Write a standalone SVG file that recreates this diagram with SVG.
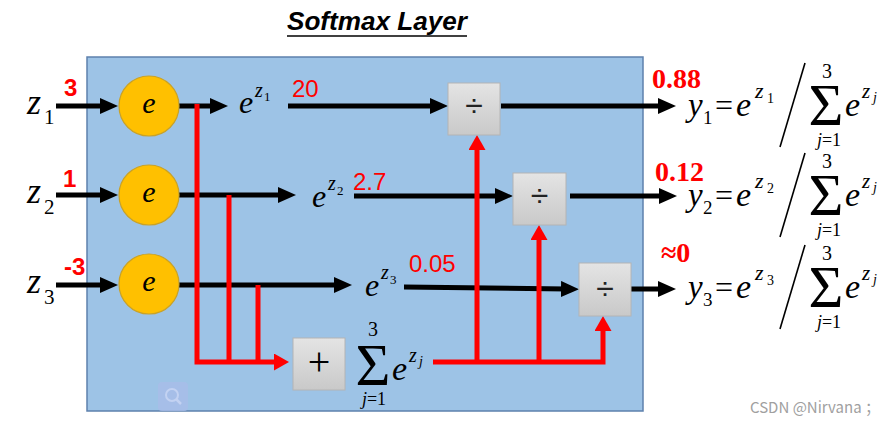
<svg xmlns="http://www.w3.org/2000/svg" width="888" height="424" viewBox="0 0 888 424">
<style>
.serif{font-family:"Liberation Serif","Times New Roman",serif;fill:#000}
.it{font-style:italic}
.lbl{font-family:"Liberation Sans",Arial,sans-serif;fill:#ff0000}
.inp{font-family:"Liberation Sans",Arial,sans-serif;fill:#ff0000;font-weight:bold;font-size:24px}
.out{font-family:"Liberation Serif","Times New Roman",serif;font-weight:bold;fill:#ff0000;font-size:28px}
.blk{stroke:#000;stroke-width:5;fill:none;marker-end:url(#ab)}
.red{stroke:#ff0000;stroke-width:5;fill:none;stroke-linejoin:miter}
.redA{marker-end:url(#ar)}
.op{fill:url(#gg);stroke:#b4b4b4;stroke-width:1}
.circ{fill:#FFC000;stroke:#C9A227;stroke-width:1.2}
</style>
<defs>
<marker id="ab" markerUnits="userSpaceOnUse" markerWidth="18" markerHeight="16" refX="6" refY="8" orient="auto"><path d="M0,0 L18,8 L0,16 z" fill="#000"/></marker>
<marker id="ar" markerUnits="userSpaceOnUse" markerWidth="15" markerHeight="17" refX="3" refY="8.5" orient="auto"><path d="M0,0 L15,8.5 L0,17 z" fill="#ff0000"/></marker>
<linearGradient id="gg" x1="0" y1="0" x2="0" y2="1"><stop offset="0" stop-color="#e4e4e4"/><stop offset="1" stop-color="#c9c9c9"/></linearGradient>
</defs>
<rect width="888" height="424" fill="#fff"/>
<g id="title">
<text x="287" y="30" font-family="Liberation Sans,Arial,sans-serif" font-weight="bold" font-style="italic" font-size="25" textLength="180" lengthAdjust="spacingAndGlyphs">Softmax Layer</text>
<line x1="287" y1="36" x2="467" y2="36" stroke="#000" stroke-width="1.5"/>
</g>
<g id="layer">
<rect x="87" y="57" width="556" height="354" fill="#9DC3E6" stroke="#5E81AD" stroke-width="1.5"/>
<rect x="158" y="382" width="30" height="29" rx="4" fill="#a9bde9" opacity="0.8"/>
<circle cx="172" cy="395" r="6" fill="none" stroke="#c3d2f2" stroke-width="2"/>
<line x1="176.5" y1="399.5" x2="181" y2="404" stroke="#c3d2f2" stroke-width="2.5"/>
</g>
<g id="connectors">
<line class="blk" x1="56" y1="106" x2="106" y2="106"/>
<line class="blk" x1="56" y1="195" x2="106" y2="195"/>
<line class="blk" x1="56" y1="285" x2="106" y2="285"/>
<line class="blk" x1="179" y1="106" x2="216" y2="106"/>
<line class="blk" x1="179" y1="195" x2="284" y2="195"/>
<line class="blk" x1="179" y1="285" x2="340" y2="285"/>
<line class="blk" x1="288" y1="106" x2="436" y2="106"/>
<line class="blk" x1="354" y1="196" x2="501" y2="196"/>
<line class="blk" x1="404" y1="287" x2="567" y2="289"/>
<line class="blk" x1="501" y1="106" x2="664" y2="106"/>
<line class="blk" x1="570" y1="196" x2="665" y2="196"/>
<line class="blk" x1="631" y1="289" x2="664" y2="289"/>
<path class="red redA" d="M197,104 V362 H277"/>
<path class="red" d="M229,195 V362"/>
<path class="red" d="M258,285 V362"/>
<path class="red redA" d="M433,362 H603 V328"/>
<path class="red redA" d="M477,362 V147"/>
<path class="red redA" d="M539,362 V237"/>
</g>
<g id="inputs">
<text class="serif" x="27" y="114"><tspan class="it" style="font-size:36px">z</tspan><tspan x="44" y="124" style="font-size:21px">1</tspan></text>
<text class="serif" x="27" y="203"><tspan class="it" style="font-size:36px">z</tspan><tspan x="44" y="214" style="font-size:21px">2</tspan></text>
<text class="serif" x="27" y="293"><tspan class="it" style="font-size:36px">z</tspan><tspan x="44" y="304" style="font-size:21px">3</tspan></text>
<text class="inp" x="64" y="96">3</text>
<text class="inp" x="63" y="187">1</text>
<text class="inp" x="64" y="275">-3</text>
</g>
<g id="exp1"><circle class="circ" cx="149" cy="106" r="30"/><text class="serif it" x="149" y="113" font-size="30" text-anchor="middle">e</text></g>
<g id="exp2"><circle class="circ" cx="149" cy="195" r="30"/><text class="serif it" x="149" y="202" font-size="30" text-anchor="middle">e</text></g>
<g id="exp3"><circle class="circ" cx="149" cy="284" r="30"/><text class="serif it" x="149" y="291" font-size="30" text-anchor="middle">e</text></g>
<g id="ez1"><text class="serif" x="239" y="113"><tspan class="it" font-size="32">e</tspan><tspan class="it" x="255" y="97" font-size="20">z</tspan><tspan x="264" y="101" font-size="13">1</tspan></text>
<text class="lbl" x="292" y="97" font-size="24">20</text></g>
<g id="ez2"><text class="serif" x="312" y="207"><tspan class="it" font-size="32">e</tspan><tspan class="it" x="328" y="190" font-size="20">z</tspan><tspan x="337" y="195" font-size="13">2</tspan></text>
<text class="lbl" x="353" y="190" font-size="24">2.7</text></g>
<g id="ez3"><text class="serif" x="365" y="296"><tspan class="it" font-size="32">e</tspan><tspan class="it" x="381" y="279" font-size="20">z</tspan><tspan x="390" y="284" font-size="13">3</tspan></text>
<text class="lbl" x="409" y="272" font-size="24">0.05</text></g>
<g id="div1"><rect class="op" x="448" y="83" width="52" height="52"/><text x="474" y="116" font-family="Liberation Sans,Arial,sans-serif" font-size="32" text-anchor="middle" fill="#222">÷</text></g>
<g id="div2"><rect class="op" x="513" y="173" width="53" height="52"/><text x="539.5" y="206" font-family="Liberation Sans,Arial,sans-serif" font-size="32" text-anchor="middle" fill="#222">÷</text></g>
<g id="div3"><rect class="op" x="579" y="263" width="52" height="53"/><text x="605" y="299" font-family="Liberation Sans,Arial,sans-serif" font-size="32" text-anchor="middle" fill="#222">÷</text></g>
<g id="sum"><rect class="op" x="293" y="338" width="52" height="52"/><text class="serif" x="319" y="375" font-size="40" text-anchor="middle">+</text>
<text class="serif" x="373" y="385" font-size="60" text-anchor="middle">Σ</text>
<text class="serif" x="373" y="336" font-size="20" text-anchor="middle">3</text>
<text class="serif" x="374" y="405" font-size="18" text-anchor="middle"><tspan class="it">j</tspan>=1</text>
<text class="serif" x="392" y="380"><tspan class="it" font-size="34">e</tspan><tspan class="it" x="409" y="362" font-size="20">z</tspan><tspan class="it" x="419" y="366" font-size="14">j</tspan></text>
</g>
<g id="out1">
<text class="out" x="652" y="88">0.88</text>
<text class="serif" x="688" y="116"><tspan class="it" font-size="33">y</tspan><tspan x="703" y="124" font-size="19">1</tspan><tspan x="715" y="116" font-size="32">=</tspan><tspan class="it" x="736" y="116" font-size="34">e</tspan><tspan class="it" x="755" y="98" font-size="22">z</tspan><tspan x="767" y="103" font-size="14">1</tspan></text>
<line x1="805" y1="63" x2="780" y2="147" stroke="#000" stroke-width="1.6"/>
<text class="serif" x="826" y="125" font-size="60" text-anchor="middle">Σ</text>
<text class="serif" x="827" y="78" font-size="20" text-anchor="middle">3</text>
<text class="serif" x="829" y="146" font-size="18" text-anchor="middle"><tspan class="it">j</tspan>=1</text>
<text class="serif" x="845" y="116"><tspan class="it" font-size="34">e</tspan><tspan class="it" x="862" y="98" font-size="21">z</tspan><tspan class="it" x="873" y="102" font-size="14">j</tspan></text>
</g>
<g id="out2">
<text class="out" x="655" y="181">0.12</text>
<text class="serif" x="688" y="206"><tspan class="it" font-size="33">y</tspan><tspan x="703" y="214" font-size="19">2</tspan><tspan x="715" y="206" font-size="32">=</tspan><tspan class="it" x="736" y="206" font-size="34">e</tspan><tspan class="it" x="755" y="188" font-size="22">z</tspan><tspan x="767" y="193" font-size="14">2</tspan></text>
<line x1="805" y1="153" x2="780" y2="237" stroke="#000" stroke-width="1.6"/>
<text class="serif" x="826" y="215" font-size="60" text-anchor="middle">Σ</text>
<text class="serif" x="827" y="168" font-size="20" text-anchor="middle">3</text>
<text class="serif" x="829" y="236" font-size="18" text-anchor="middle"><tspan class="it">j</tspan>=1</text>
<text class="serif" x="845" y="206"><tspan class="it" font-size="34">e</tspan><tspan class="it" x="862" y="188" font-size="21">z</tspan><tspan class="it" x="873" y="192" font-size="14">j</tspan></text>
</g>
<g id="out3">
<text class="out" x="661" y="262" font-size="25">≈0</text>
<text class="serif" x="688" y="298"><tspan class="it" font-size="33">y</tspan><tspan x="703" y="306" font-size="19">3</tspan><tspan x="715" y="298" font-size="32">=</tspan><tspan class="it" x="736" y="298" font-size="34">e</tspan><tspan class="it" x="755" y="280" font-size="22">z</tspan><tspan x="767" y="285" font-size="14">3</tspan></text>
<line x1="805" y1="245" x2="780" y2="329" stroke="#000" stroke-width="1.6"/>
<text class="serif" x="826" y="307" font-size="60" text-anchor="middle">Σ</text>
<text class="serif" x="827" y="260" font-size="20" text-anchor="middle">3</text>
<text class="serif" x="829" y="328" font-size="18" text-anchor="middle"><tspan class="it">j</tspan>=1</text>
<text class="serif" x="845" y="298"><tspan class="it" font-size="34">e</tspan><tspan class="it" x="862" y="280" font-size="21">z</tspan><tspan class="it" x="873" y="284" font-size="14">j</tspan></text>
</g>
<text x="750" y="413" font-family="Noto Sans CJK SC,Liberation Sans,sans-serif" font-size="15" fill="#a0a0a0">CSDN @Nirvana ；</text>
</svg>
